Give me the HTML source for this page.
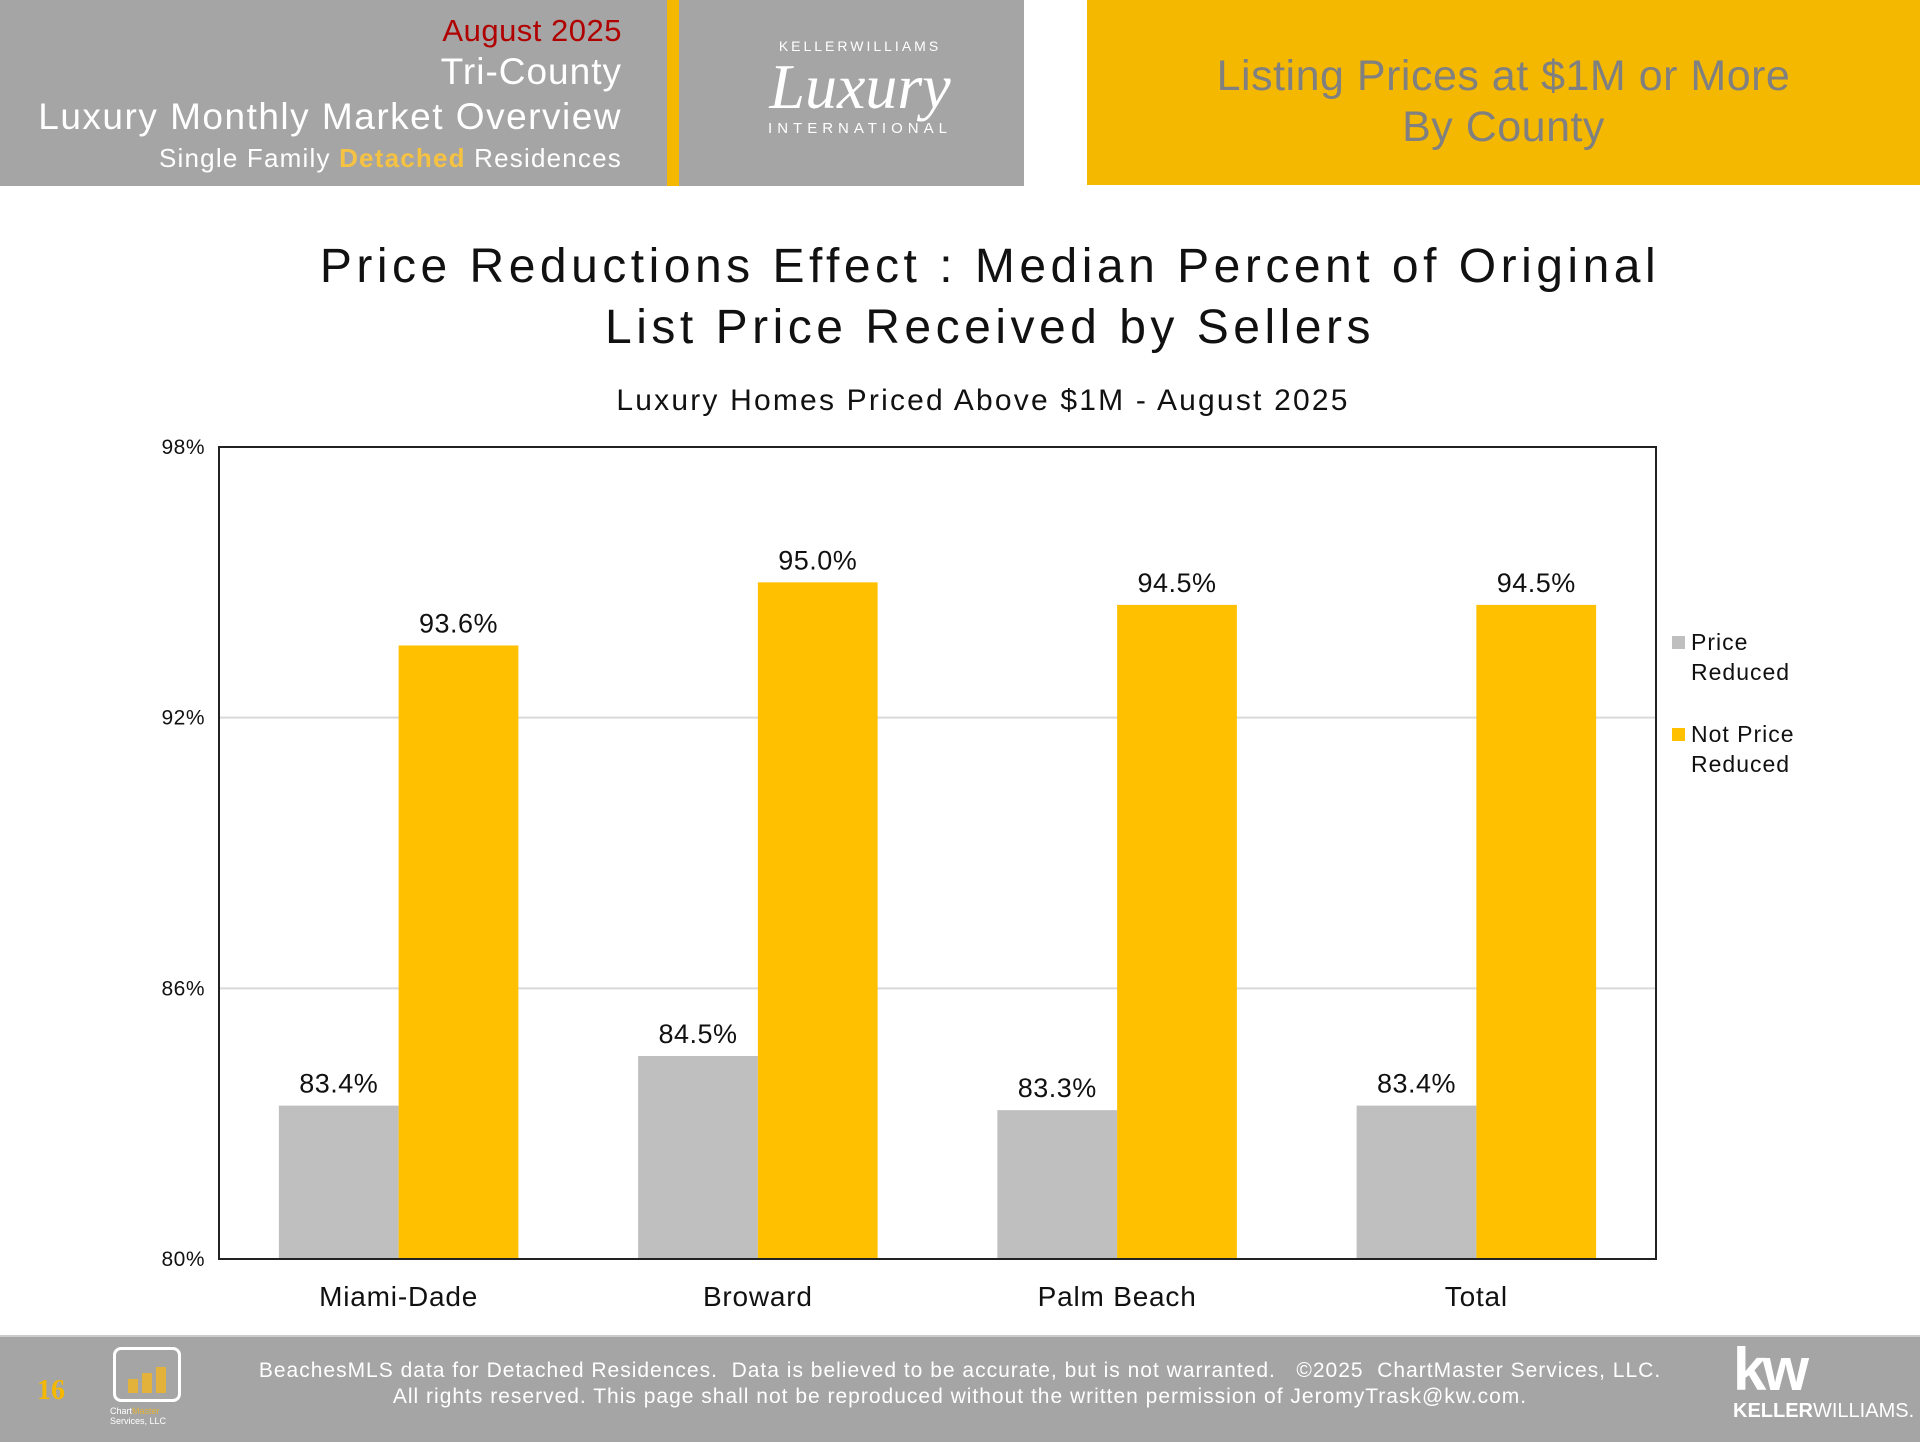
<!DOCTYPE html>
<html><head><meta charset="utf-8">
<style>
body{margin:0;width:1920px;height:1440px;position:relative;background:#fff;font-family:"Liberation Sans","DejaVu Sans",sans-serif;overflow:hidden}
.abs{position:absolute}
</style></head>
<body>
<div class="abs" style="left:0;top:0;width:1024px;height:186px;background:#a5a5a5"></div>
<div class="abs" style="left:667px;top:0;width:12px;height:186px;background:#f5b800"></div>
<div class="abs" style="right:1298px;top:12px;text-align:right;color:#fff;white-space:nowrap">
 <div style="color:#b00000;font-size:31px;line-height:38px;letter-spacing:0.5px">August 2025</div>
 <div style="font-size:37px;line-height:44px;letter-spacing:1px">Tri-County</div>
 <div style="font-size:37px;line-height:46px;letter-spacing:1.5px">Luxury Monthly Market Overview</div>
 <div style="font-size:26px;line-height:36px;letter-spacing:1.2px">Single Family <b style="color:#f5c242">Detached</b> Residences</div>
</div>
<div class="abs" style="left:700px;top:38px;width:320px;color:#fff;text-align:center">
 <div style="font-size:14px;letter-spacing:3px">KELLERWILLIAMS</div>
 <div style="font-family:'Liberation Serif',serif;font-style:italic;font-size:64px;line-height:66px">Luxury</div>
 <div style="font-size:15px;letter-spacing:5px">INTERNATIONAL</div>
</div>
<div class="abs" style="left:1087px;top:0;width:833px;height:185px;background:#f5b800;color:#808080;text-align:center;font-size:43px;line-height:51px;letter-spacing:0.5px">
 <div style="padding-top:51px">Listing Prices at $1M or More<br>By County</div>
</div>

<div class="abs" style="left:0;width:1980px;top:236px;text-align:center;font-size:48px;line-height:61px;letter-spacing:4.5px;color:#111">Price Reductions Effect : Median Percent of Original<br>List Price Received by Sellers</div>
<div class="abs" style="left:0;width:1966px;top:384px;text-align:center;font-size:30px;letter-spacing:2.2px;color:#111">Luxury Homes Priced Above $1M - August 2025</div>

<svg class="abs" style="left:0;top:0" width="1920" height="1440" id="chart"></svg>

<div class="abs" style="left:0;top:1335px;width:1920px;height:105px;background:#a5a5a5;border-top:2px solid #ccc"></div>
<div class="abs" style="left:37px;top:1375px;color:#f5b800;font-family:'Liberation Serif',serif;font-weight:bold;font-size:28px">16</div>
<div class="abs" style="left:113px;top:1347px;width:68px;height:55px;border:3px solid #fff;border-radius:8px;box-sizing:border-box">
 <div style="position:absolute;left:12px;bottom:6px;width:10px;height:14px;background:#e2b23a"></div>
 <div style="position:absolute;left:26px;bottom:6px;width:10px;height:20px;background:#e2b23a"></div>
 <div style="position:absolute;left:40px;bottom:6px;width:10px;height:26px;background:#e2b23a"></div>
</div>
<div class="abs" style="left:110px;top:1406px;color:#fff;font-size:9px;line-height:10px">Chart<span style="color:#e2b23a">Master</span><br>Services, LLC</div>
<div class="abs" style="left:0;width:1920px;top:1358px;text-align:center;color:#fff;font-size:21px;line-height:26px;letter-spacing:1px">BeachesMLS data for Detached Residences.&nbsp; Data is believed to be accurate, but is not warranted.&nbsp;&nbsp; ©2025&nbsp; ChartMaster Services, LLC.<br>All rights reserved. This page shall not be reproduced without the written permission of JeromyTrask@kw.com.</div>
<div class="abs" style="left:1733px;top:1340px;color:#fff;text-align:left">
 <div style="font-size:60px;font-weight:bold;line-height:60px;letter-spacing:-4px">kw</div>
 <div style="font-size:20px;line-height:22px"><b>KELLER</b>WILLIAMS.</div>
</div>

<script>
const categories=["Miami-Dade","Broward","Palm Beach","Total"];
const priceReduced=[83.4,84.5,83.3,83.4];
const notPriceReduced=[93.6,95.0,94.5,94.5];
const yTicks=[80,86,92,98];
const yTickLabels=["80%","86%","92%","98%"];
const seriesNames=["Price Reduced","Not Price Reduced"];

const NS="http://www.w3.org/2000/svg";
const svg=document.getElementById('chart');
const X0=219,X1=1656,Y0=1259,Y1=447,YMIN=80,YMAX=98;
function y(v){return Y0-(v-YMIN)/(YMAX-YMIN)*(Y0-Y1);}
const cw=(X1-X0)/categories.length;
function xc(i){return X0+cw*(i+0.5);}
const bw=cw/3;
function mk(tag,attrs){const e=document.createElementNS(NS,tag);for(const k in attrs)e.setAttribute(k,attrs[k]);svg.appendChild(e);return e;}
function txt(x,yy,s,size,anchor,ls){const t=mk('text',{x:x,y:yy,'font-size':size,'text-anchor':anchor||'middle',fill:'#111','letter-spacing':ls||0,'font-family':'Liberation Sans, DejaVu Sans, sans-serif'});t.textContent=s;return t;}

yTicks.forEach((v,i)=>{
  if(v>YMIN&&v<YMAX){const g=mk('line',{x1:X0,x2:X1,y1:y(v),y2:y(v),stroke:'#d9d9d9','stroke-width':2});
  
  }
  const t=txt(X0-14,y(v)+7,yTickLabels[i],21,'end',0.5);
  
  
});
categories.forEach((c,i)=>{
  const cx=xc(i);
  const b1=mk('rect',{x:cx-bw,y:y(priceReduced[i]),width:bw,height:Y0-y(priceReduced[i]),fill:'#bfbfbf'});
  
  
  const b2=mk('rect',{x:cx,y:y(notPriceReduced[i]),width:bw,height:Y0-y(notPriceReduced[i]),fill:'#ffc000'});
  
  
  const l1=txt(cx-bw/2,y(priceReduced[i])-13,priceReduced[i].toFixed(1)+'%',27,'middle',0.5);
  
  
  const l2=txt(cx+bw/2,y(notPriceReduced[i])-13,notPriceReduced[i].toFixed(1)+'%',27,'middle',0.5);
  
  
  const cl=txt(cx,1306,c,28,'middle',0.8);
  
  
});
const frame=mk('rect',{x:X0,y:Y1,width:X1-X0,height:Y0-Y1,fill:'none',stroke:'#222','stroke-width':2});



const legColors=['#bfbfbf','#ffc000'];
const legLines=[["Price","Reduced"],["Not Price","Reduced"]];
seriesNames.forEach((s,i)=>{
  const ly=636+i*92;
  const sq=mk('rect',{x:1672,y:ly,width:13,height:13,fill:legColors[i]});
  
  
  legLines[i].forEach((ln,j)=>{
    const t=txt(1691,ly+14+j*30,ln,23,'start',1);
    
    
  });
});
</script>
</body></html>
